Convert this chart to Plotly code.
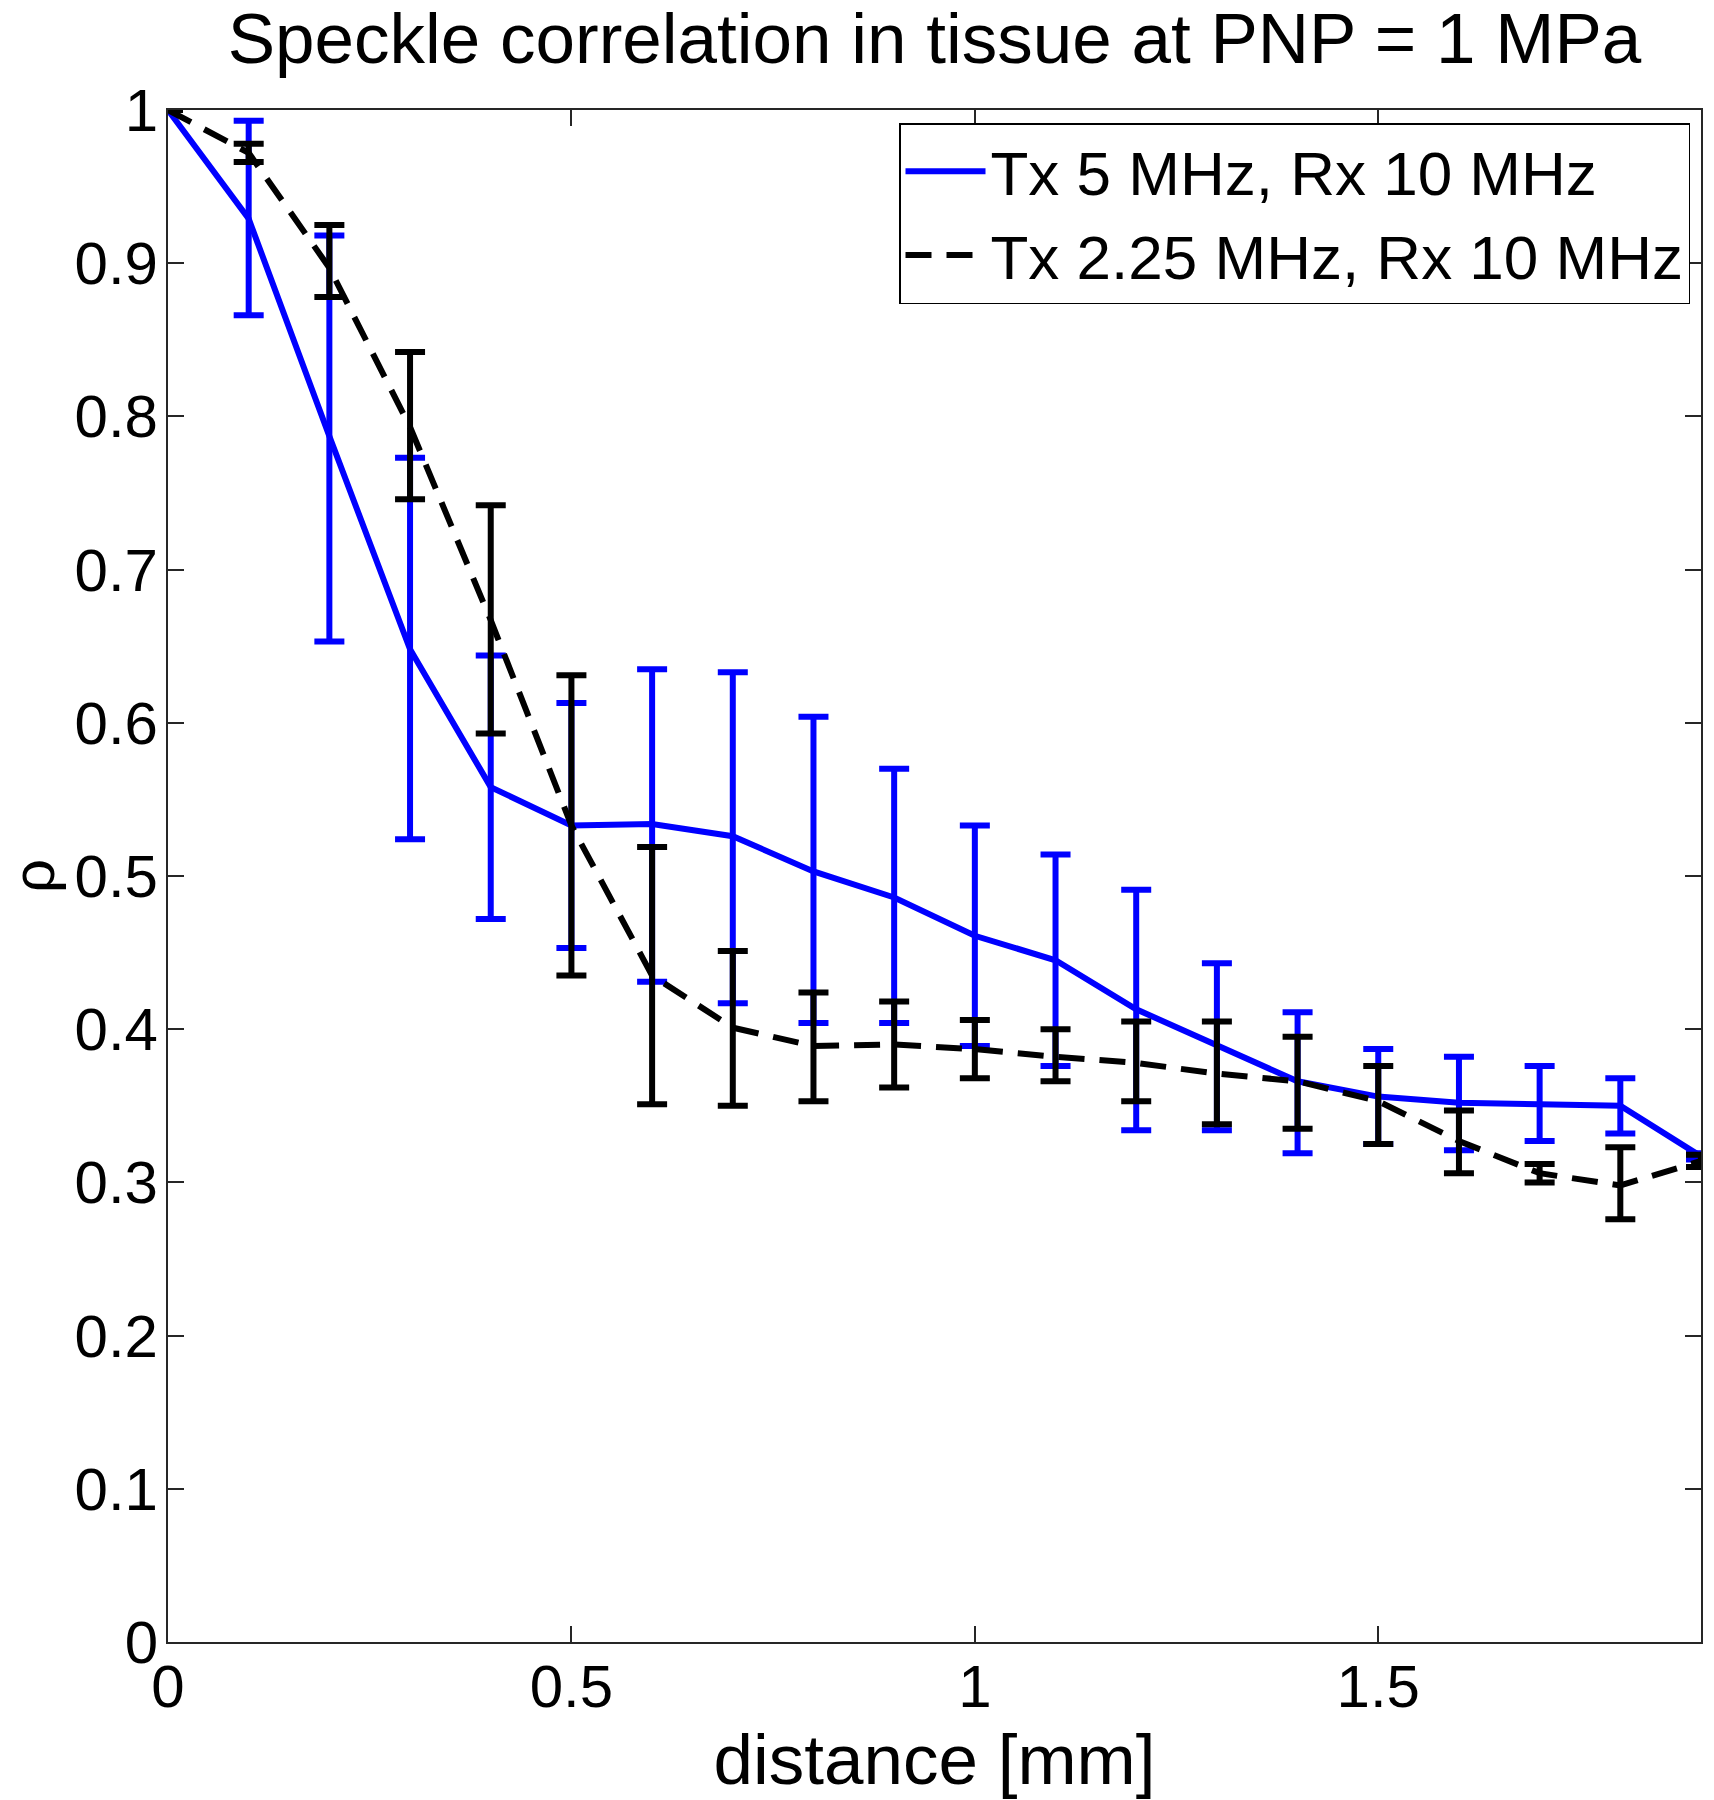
import plotly.graph_objects as go

# ---- data ----
distance = [0.0, 0.1, 0.2, 0.3, 0.4, 0.5, 0.6, 0.7, 0.8, 0.9, 1.0,
            1.1, 1.2, 1.3, 1.4, 1.5, 1.6, 1.7, 1.8, 1.9]

# Tx 5 MHz, Rx 10 MHz
rho_5 = [1.0, 0.929, 0.787, 0.648, 0.558, 0.533, 0.534, 0.526, 0.503, 0.486, 0.461,
         0.445, 0.413, 0.389, 0.366, 0.356, 0.352, 0.351, 0.350, 0.317]
upper_5 = [None, 0.993, 0.918, 0.773, 0.644, 0.613, 0.635, 0.633, 0.604, 0.570, 0.533,
           0.514, 0.491, 0.443, 0.411, 0.387, 0.382, 0.376, 0.368, 0.319]
lower_5 = [None, 0.866, 0.653, 0.524, 0.472, 0.453, 0.431, 0.417, 0.404, 0.404, 0.389,
           0.376, 0.334, 0.334, 0.319, 0.325, 0.321, 0.327, 0.332, 0.315]

# Tx 2.25 MHz, Rx 10 MHz
rho_225 = [1.0, 0.972, 0.897, 0.793, 0.667, 0.533, 0.435, 0.401, 0.389, 0.390, 0.387,
           0.382, 0.378, 0.371, 0.366, 0.353, 0.327, 0.306, 0.298, 0.314]
upper_225 = [None, 0.978, 0.925, 0.842, 0.742, 0.631, 0.519, 0.451, 0.424, 0.418, 0.406,
             0.400, 0.405, 0.405, 0.395, 0.376, 0.347, 0.312, 0.323, 0.318]
lower_225 = [None, 0.966, 0.878, 0.746, 0.593, 0.435, 0.351, 0.350, 0.353, 0.362, 0.368,
             0.366, 0.353, 0.338, 0.335, 0.325, 0.306, 0.300, 0.276, 0.310]

series_names = ["Tx 5 MHz, Rx 10 MHz", "Tx 2.25 MHz, Rx 10 MHz"]
x_ticks = [0, 0.5, 1, 1.5]
x_ticktext = ["0", "0.5", "1", "1.5"]
y_ticks = [0, 0.1, 0.2, 0.3, 0.4, 0.5, 0.6, 0.7, 0.8, 0.9, 1.0]
y_ticktext = ["0", "0.1", "0.2", "0.3", "0.4", "0.5", "0.6", "0.7", "0.8", "0.9", "1"]

FONT = "Liberation Sans, Arial, Helvetica, sans-serif"


def plus_minus(mean, up, lo):
    plus = [None if u is None else u - m for m, u in zip(mean, up)]
    minus = [None if l is None else m - l for m, l in zip(mean, lo)]
    return plus, minus


p5, m5 = plus_minus(rho_5, upper_5, lower_5)
p225, m225 = plus_minus(rho_225, upper_225, lower_225)

fig = go.Figure()
fig.add_trace(go.Scatter(
    x=distance, y=rho_5, mode="lines", name=series_names[0],
    line=dict(color="#0000FF", width=6),
    error_y=dict(type="data", symmetric=False, array=p5, arrayminus=m5,
                 color="#0000FF", thickness=6, width=15),
))
fig.add_trace(go.Scatter(
    x=distance, y=rho_225, mode="lines", name=series_names[1],
    line=dict(color="#000000", width=6, dash="26px,15px"),
    error_y=dict(type="data", symmetric=False, array=p225, arrayminus=m225,
                 color="#000000", thickness=6, width=15),
))

axis_common = dict(
    showline=True, mirror="ticks", linecolor="#262626", linewidth=2,
    ticks="inside", ticklen=16, tickwidth=1.5, tickcolor="#262626",
    showgrid=False, zeroline=False,
    tickfont=dict(family=FONT, size=60, color="#000000"),
)

fig.update_layout(
    width=1714, height=1800,
    margin=dict(l=168, r=13, t=110, b=158, autoexpand=False),
    paper_bgcolor="white", plot_bgcolor="white",
    font=dict(family=FONT, color="#000000"),
    title=dict(text="Speckle correlation in tissue at PNP = 1 MPa",
               font=dict(family=FONT, size=71, color="#000000"),
               x=0.5, xref="paper", xanchor="center",
               y=1 - 38 / 1800, yref="container", yanchor="middle"),
    xaxis=dict(range=[0, 1.9], tickvals=x_ticks, ticktext=x_ticktext,
               ticklabelstandoff=-9,
               title=dict(text="distance [mm]", font=dict(family=FONT, size=71),
                          standoff=0),
               **axis_common),
    yaxis=dict(range=[0, 1], tickvals=y_ticks, ticktext=y_ticktext,
               ticklabelstandoff=-4,
               title=dict(text="ρ", font=dict(family=FONT, size=60), standoff=20),
               **axis_common),
    legend=dict(x=(1690 - 168) / 1533, xanchor="right",
                y=1 - (123 - 110) / 1532, yanchor="top",
                bgcolor="white", bordercolor="#000000", borderwidth=1.5,
                font=dict(family=FONT, size=62, color="#000000"),
                itemwidth=80, tracegroupgap=0),
    showlegend=True,
)

fig.write_html("out.html", include_plotlyjs=True,
               config={"displayModeBar": False},
               post_script="document.body.style.margin='0';")
